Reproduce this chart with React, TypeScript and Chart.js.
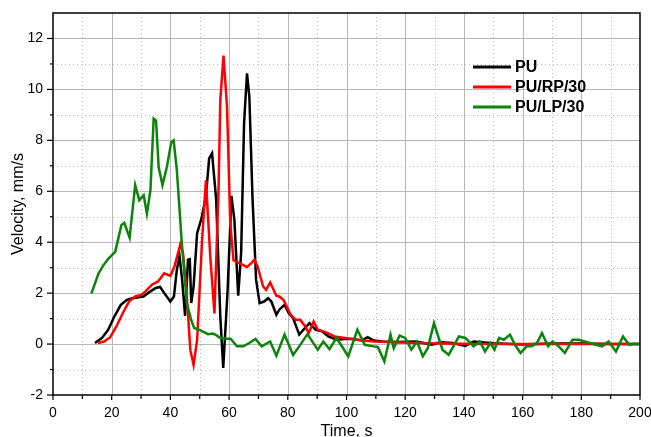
import React, { useEffect, useRef } from "react";
import { Chart, registerables } from "chart.js";

Chart.register(...registerables);

const seriesNames = ["PU", "PU/RP/30", "PU/LP/30"];
const seriesColors = ["#000000", "#ff0000", "#0a840a"];

const puTime = [14.3,16.7,18.8,20.9,23.1,25.2,27,28.7,30.8,32.7,35,36.5,37.9,40,41.2,42.2,43.1,44,45,46,46.6,47.1,47.9,49.1,50.6,52.1,53.2,54.2,55.6,57,58,59.5,60.8,61.8,63.1,64.1,65.1,66.1,66.9,68,69.2,70.4,71.9,73.3,74.4,76.1,77.1,78.9,80.3,81.8,83.9,85.3,87.4,89.5,91.7,93.8,96.6,99.4,102.3,105.1,107.2,109.3,112.2,117.8,123.5,126.3,129.1,132,136.2,140.5,143.3,150,160,170,180,190,200];
const puVel = [0.04,0.24,0.56,1.08,1.54,1.74,1.8,1.83,1.87,2.03,2.2,2.24,2.0,1.67,1.87,2.92,3.46,2.52,1.11,3.31,3.33,1.61,2.26,4.35,4.94,5.79,7.29,7.49,5.66,1.08,-0.94,2.13,5.82,4.88,1.9,3.57,8.67,10.63,9.71,5.66,2.52,1.61,1.67,1.8,1.67,1.15,1.35,1.54,1.22,1.02,0.37,0.56,0.82,0.56,0.5,0.3,0.17,0.2,0.2,0.14,0.27,0.14,0.1,0.08,0.1,0.04,-0.03,0.07,0.04,-0.07,0.1,0.03,-0.02,0.02,0.02,0.0,0.0];

const rpTime = [15.3,17.4,19.5,21.6,23.8,25.9,28,30.1,31.5,33.7,35.8,37.9,40,41.4,43.4,44.3,45.4,46.8,47.9,49.1,50.8,52.1,53.6,55,56.4,57,58.1,59.3,60.4,61.5,63.8,66.1,67.6,68.6,69.7,71.6,72.6,74,76.1,77.1,78.5,79.6,81,82.7,84.2,86,87.1,88.8,90.2,93.1,95.9,99.4,103.7,109.3,116.4,123.5,137.6,150,170,200];
const rpVel = [0.04,0.1,0.27,0.69,1.22,1.67,1.87,1.93,2.07,2.33,2.46,2.78,2.68,3.05,3.92,3.57,2.2,-0.24,-0.82,0.16,4.08,6.43,3.42,1.2,6.04,9.57,11.33,9.3,4.74,3.29,3.16,3.03,3.18,3.31,3.05,2.26,2.13,2.42,1.9,1.87,1.74,1.48,1.15,0.95,0.95,0.69,0.43,0.89,0.56,0.46,0.3,0.24,0.17,0.1,0.07,0.04,0.01,0,0,0];

const lpTime = [13.1,15.5,17.2,18.9,21.2,23.3,24.3,26.1,28,29.4,30.9,32,33.2,34.3,35.1,36,37.3,38.8,40.3,41.1,42.2,43.9,45.6,47.1,48.1,49.9,52.8,54.5,55.6,57,59.1,60.5,62.7,64.8,66.9,69,71.1,74,76.1,78.9,81.8,83.9,86.7,90.2,92.1,94.2,96.6,100.6,103.7,106.2,109.3,110.7,112.9,115,116.1,118.1,120,122.1,124,126,127.7,129.8,132.7,134.8,138.3,140.5,143.3,145.4,147.2,149,150.4,152,153.6,155.7,157.4,159.3,161.4,163.1,164.9,166.6,168.7,170.2,172.3,174.4,177,179.1,181.2,182.9,185,187.1,189.3,191.8,194.2,196.3,197.7,200];
const lpVel = [1.99,2.77,3.1,3.36,3.62,4.67,4.76,4.18,6.24,5.65,5.84,5.12,6.04,8.85,8.78,6.95,6.24,6.95,7.93,8.0,6.82,3.95,1.6,0.94,0.63,0.56,0.39,0.41,0.35,0.24,0.21,0.21,-0.09,-0.09,0.04,0.2,-0.09,0.1,-0.46,0.37,-0.43,-0.09,0.39,-0.22,0.1,-0.2,0.24,-0.48,0.56,-0.03,-0.09,-0.12,-0.68,0.37,-0.16,0.33,0.24,-0.22,0.1,-0.48,-0.16,0.82,-0.22,-0.42,0.3,0.24,-0.09,0.1,-0.29,0.04,-0.22,0.24,0.17,0.37,-0.03,-0.35,-0.09,-0.09,0.04,0.43,-0.09,0.1,-0.09,-0.35,0.17,0.17,0.1,0.04,-0.03,-0.09,0.1,-0.29,0.3,-0.03,0,0];

const xTicks = [0, 20, 40, 60, 80, 100, 120, 140, 160, 180, 200];
const yTicks = [-2, 0, 2, 4, 6, 8, 10, 12];
const xMinorStep = 10;
const yMinorStep = 1;
const xMin = 0, xMax = 200, yMin = -2, yMax = 13;

const zip = (t: number[], v: number[]) =>
  t.slice(0, Math.min(t.length, v.length)).map((x, i) => ({ x, y: v[i] }));

const FONT = "'Liberation Sans', Arial, sans-serif";

const framePlugin = {
  id: "frameGrid",
  beforeDatasetsDraw(chart: any) {
    const { ctx, chartArea } = chart;
    const xs = chart.scales.x, ys = chart.scales.y;
    ctx.save();
    ctx.strokeStyle = "#b8b8b8";
    ctx.lineWidth = 1;
    for (let v = xMin + xMinorStep; v < xMax; v += xMinorStep) {
      const major = xTicks.includes(v);
      const px = Math.round(xs.getPixelForValue(v)) + 0.5;
      ctx.setLineDash(major ? [] : [1, 3]);
      ctx.beginPath();
      ctx.moveTo(px, chartArea.top);
      ctx.lineTo(px, chartArea.bottom);
      ctx.stroke();
    }
    for (let v = yMin + yMinorStep; v < yMax; v += yMinorStep) {
      const major = yTicks.includes(v);
      const py = Math.round(ys.getPixelForValue(v)) + 0.5;
      ctx.setLineDash(major ? [] : [1, 3]);
      ctx.beginPath();
      ctx.moveTo(chartArea.left, py);
      ctx.lineTo(chartArea.right, py);
      ctx.stroke();
    }
    ctx.restore();
  },
  afterDatasetsDraw(chart: any) {
    const { ctx, chartArea } = chart;
    const xs = chart.scales.x, ys = chart.scales.y;
    ctx.save();
    ctx.setLineDash([]);
    ctx.strokeStyle = "#000";
    ctx.lineWidth = 1.5;
    ctx.strokeRect(chartArea.left, chartArea.top, chartArea.right - chartArea.left, chartArea.bottom - chartArea.top);
    ctx.lineWidth = 1.2;
    for (let v = xMin; v <= xMax; v += xMinorStep) {
      const px = xs.getPixelForValue(v);
      const len = xTicks.includes(v) ? 5 : 4;
      ctx.beginPath();
      ctx.moveTo(px, chartArea.bottom);
      ctx.lineTo(px, chartArea.bottom + len);
      ctx.stroke();
    }
    for (let v = yMin; v <= 12; v += yMinorStep) {
      const py = ys.getPixelForValue(v);
      const len = yTicks.includes(v) ? 6 : 3;
      ctx.beginPath();
      ctx.moveTo(chartArea.left, py);
      ctx.lineTo(chartArea.left - len, py);
      ctx.stroke();
    }
    // legend
    const lx0 = 473, lx1 = 511, ly0 = 67, dy = 20;
    ctx.font = `bold 16px ${FONT}`;
    ctx.textBaseline = "middle";
    ctx.textAlign = "left";
    seriesNames.forEach((name, i) => {
      const y = ly0 + i * dy;
      ctx.strokeStyle = seriesColors[i];
      ctx.lineWidth = 3;
      ctx.beginPath();
      ctx.moveTo(lx0, y);
      ctx.lineTo(lx1, y);
      ctx.stroke();
      ctx.fillStyle = "#000";
      ctx.fillText(name, 515, y + 1);
    });
    ctx.restore();
  },
};

export default function App() {
  const ref = useRef<HTMLCanvasElement | null>(null);
  useEffect(() => {
    document.body.style.margin = "0";
    const canvas = ref.current!;
    const chart = new Chart(canvas, {
      type: "line",
      data: {
        datasets: [
          { label: seriesNames[0], data: zip(puTime, puVel), borderColor: seriesColors[0], borderWidth: 2.5, pointRadius: 0, tension: 0, order: 2 },
          { label: seriesNames[1], data: zip(rpTime, rpVel), borderColor: seriesColors[1], borderWidth: 2.5, pointRadius: 0, tension: 0, order: 1 },
          { label: seriesNames[2], data: zip(lpTime, lpVel), borderColor: seriesColors[2], borderWidth: 2.5, pointRadius: 0, tension: 0, order: 0 },
        ],
      },
      options: {
        responsive: false,
        animation: false,
        layout: { padding: { left: 0, right: 11, top: 13, bottom: 0 } },
        plugins: { legend: { display: false }, tooltip: { enabled: false } },
        scales: {
          x: {
            type: "linear",
            min: xMin,
            max: xMax,
            grid: { display: false, drawTicks: false },
            border: { display: false },
            ticks: { color: "#000", font: { family: FONT, size: 14 }, padding: 10, maxRotation: 0, autoSkip: false },
            afterBuildTicks: (s: any) => { s.ticks = xTicks.map((v) => ({ value: v })); },
            afterFit: (s: any) => { s.height = 42; s.paddingLeft = 0; s.paddingRight = 0; },
            title: { display: true, text: "Time, s", color: "#000", font: { family: FONT, size: 16, lineHeight: 1 }, padding: { top: 0, bottom: -3 } },
          },
          y: {
            type: "linear",
            min: yMin,
            max: yMax,
            grid: { display: false, drawTicks: false },
            border: { display: false },
            ticks: { color: "#000", font: { family: FONT, size: 14 }, padding: 10, autoSkip: false },
            afterBuildTicks: (s: any) => { s.ticks = yTicks.map((v) => ({ value: v })); },
            afterFit: (s: any) => { s.width = 53; s.paddingTop = 0; s.paddingBottom = 0; },
            title: { display: true, text: "Velocity, mm/s", color: "#000", font: { family: FONT, size: 16, lineHeight: 1.2 }, padding: { top: 9, bottom: 0 } },
          },
        },
      },
      plugins: [framePlugin],
    } as any);
    return () => chart.destroy();
  }, []);
  return <canvas ref={ref} width={651} height={437} style={{ display: "block" }} />;
}
